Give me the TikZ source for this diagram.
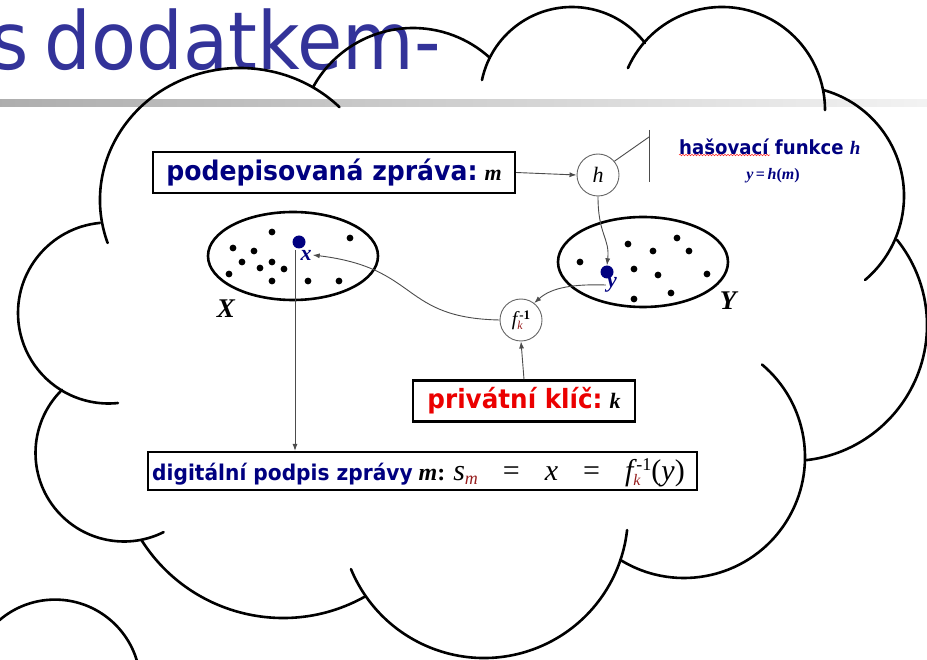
\documentclass[tikz,border=0pt]{standalone}
\usepackage{fontspec}
\setmainfont{Liberation Serif}
\newfontfamily\tah{DejaVu Sans}
\usetikzlibrary{arrows.meta,decorations.pathmorphing,shapes.geometric}
\definecolor{titleblue}{RGB}{51,51,153}
\definecolor{navy}{RGB}{0,0,128}
\definecolor{keyred}{RGB}{235,0,0}
\definecolor{subred}{RGB}{150,30,30}
% bold sans label, slightly condensed
\newcommand\tahb[2]{{\tah\bfseries\fontsize{#1}{#1}\selectfont\scalebox{0.93}[1]{#2}}}
% bold italic serif variable
\newcommand\bivar[2]{{\fontsize{#1}{#1}\selectfont\bfseries\itshape #2}}
% one bump of the cloud outline: centre, start angle, end angle, radius
\newcommand\cloudarc[4]{\draw[cloudline] (#1) ++(#2:#4) arc[start angle=#2,end angle=#3,radius=#4];}
\begin{document}
\begin{tikzpicture}[x=1pt,y=-1pt,
  cloudline/.style={line width=2.6pt,black,line cap=round},
  conn/.style={draw=black!70,line width=0.9pt,-{Latex[length=7pt,width=5pt]}},
  wire/.style={draw=black!70,line width=0.9pt},
  setline/.style={ellipse,draw=black,line width=2.6pt,inner sep=0pt},
  bdot/.style={circle,fill=navy,inner sep=0pt,minimum size=13pt},
  fbox/.style={draw=black,line width=2.2pt,fill=white,inner sep=0pt,minimum height=41pt},
  opcirc/.style={circle,draw=black!60,line width=0.9pt,fill=white,minimum size=42pt,inner sep=0pt},
]
\useasboundingbox (0,0) rectangle (927,660);
\clip (0,0) rectangle (927,660);
\fill[white] (0,0) rectangle (927,660);

% slide title and rule
\node[anchor=base east,text=titleblue,inner sep=0pt] (title) at (441,70)
  {\fontsize{80}{80}\selectfont\tah\scalebox{0.92}[1]{s\hspace{-8pt} dodatkem-}};
\shade[left color=black!32,right color=black!5] (0,100) rectangle (927,107);

% cloud outline
\cloudarc{108.5,313}{264.6}{84}{90.5}
\cloudarc{124,453}{225.5}{63.4}{88.5}
\cloudarc{283,450.5}{147.7}{61}{167.5}
\cloudarc{484,514}{157.5}{6.4}{144}
\cloudarc{684,457}{121.8}{-49.8}{121}
\cloudarc{791,325}{84}{-38.8}{136}
\cloudarc{794,196}{285.3}{409.8}{110}
\cloudarc{722,110}{204}{360}{103}
\cloudarc{572,99}{191.9}{322.5}{92}
\cloudarc{413,142}{208.8}{312.5}{114}
\draw[cloudline] (240,200) ++(161:140 and 132) arc[start angle=161,end angle=315.3,x radius=140,y radius=132];
\draw[cloudline] (55,685) circle[radius=85.4];

% message box and hash function
\node[fbox,minimum width=362pt] (msg) at (334,172.5)
  {\textcolor{navy}{\tahb{27}{podepisovaná zpráva:}}\hspace{7pt}\bivar{22}{m}};
\node[opcirc] (hcirc) at (598,175) {\fontsize{22}{22}\selectfont\itshape h};
\coordinate (hbartop) at (649,130);
\coordinate (hbarbot) at (649,182);
\coordinate (hbarjoin) at (649,137);
\draw[wire] (hcirc.40) -- (hbarjoin);
\draw[wire] (hbartop) -- (hbarbot);
\node[text=navy,inner sep=0pt,anchor=west] (hashname) at (679,147)
  {\tahb{19.5}{hašovací funkce}\hspace{6pt}\bivar{19}{h}};
\node[text=navy,inner sep=0pt] (hashdef) at (773,176)
  {\bivar{16}{y} {\fontsize{16}{16}\selectfont\bfseries =} \bivar{16}{h}{\fontsize{16}{16}\selectfont\bfseries(}\bivar{16}{m}{\fontsize{16}{16}\selectfont\bfseries)}};
\draw[red!85,line width=0.5pt,decorate,decoration={snake,amplitude=0.8pt,segment length=3pt}]
  (679,155) -- (770,155);
\draw[conn] (msg.east) -- (hcirc.west);

% the sets X and Y
\node[setline,minimum width=170pt,minimum height=88pt] (setX) at (293,256) {};
\node[setline,minimum width=170pt,minimum height=90pt] (setY) at (643,262) {};
\foreach \p in {(272,232),(233,248),(254,251),(242,262),(272,262),(260,268),(284,269),
                (229,274),(272,281),(308,281),(339,281),(350,238)}
  \fill[black] \p circle[radius=3.4];
\foreach \p in {(580,262),(628,244),(677,238),(653,251),(689,251),(634,269),(658,275),
                (707,274),(671,293),(634,299)}
  \fill[black] \p circle[radius=3.4];
\node[bdot] (xdot) at (299,242) {};
\node[bdot] (ydot) at (607,272) {};
\node[text=navy,inner sep=1pt] (xlab) at (306,255) {\bivar{22}{x}};
\node[text=navy,inner sep=1pt] (ylab) at (612,285) {\bivar{22}{y}};
\node[inner sep=0pt] (Xname) at (226,309) {\bivar{27}{X}};
\node[inner sep=0pt] (Yname) at (728,301) {\bivar{27}{Y}};

% signing function and private key
\node[opcirc] (fcirc) at (521,320)
  {\fontsize{20}{20}\selectfont\itshape f\rlap{\raisebox{-4pt}{\fontsize{12}{12}\selectfont\color{subred}k}}\kern2pt\raisebox{6pt}{\fontsize{13}{13}\selectfont\upshape\bfseries -1}};
\node[fbox,minimum width=222pt] (key) at (524,401)
  {\textcolor{keyred}{\tahb{26.5}{privátní klíč:}}\hspace{7pt}\bivar{22}{k}};

% resulting signature
\node[fbox,minimum width=549pt,minimum height=38pt] (sig) at (422.5,471) {};
\node[anchor=base west,inner sep=0pt] (sigtext) at (152,480)
  {\textcolor{navy}{\tahb{21.7}{digitální podpis zprávy}}\hspace{6pt}\bivar{24}{m}{\fontsize{24}{24}\selectfont\bfseries:}\hspace{8pt}%
   {\fontsize{30}{30}\selectfont\itshape s\raisebox{-4pt}{\fontsize{18}{18}\selectfont\color{subred}m}\hspace{25pt}\upshape=\hspace{25pt}\itshape x\hspace{25pt}\upshape=\hspace{25pt}\itshape f\rlap{\raisebox{-5pt}{\fontsize{16}{16}\selectfont\color{subred}k}}\kern3pt\raisebox{10pt}{\fontsize{18}{18}\selectfont\upshape -1}\upshape(\itshape y\upshape)}};

% connectors
\draw[conn] (hcirc.south) .. controls (598,235) and (610,238) .. (ydot.north);
\draw[conn] (ylab.west) .. controls (575,284) and (552,287) .. (fcirc.52);
\draw[conn] (fcirc.west) .. controls (400,318) and (420,268) .. (xlab.east);
\draw[conn] (key.north) -- (fcirc.south);
\coordinate (xdrop) at (295,250);
\draw[conn] (xdrop) -- (xdrop |- sig.north);
\end{tikzpicture}
\end{document}
